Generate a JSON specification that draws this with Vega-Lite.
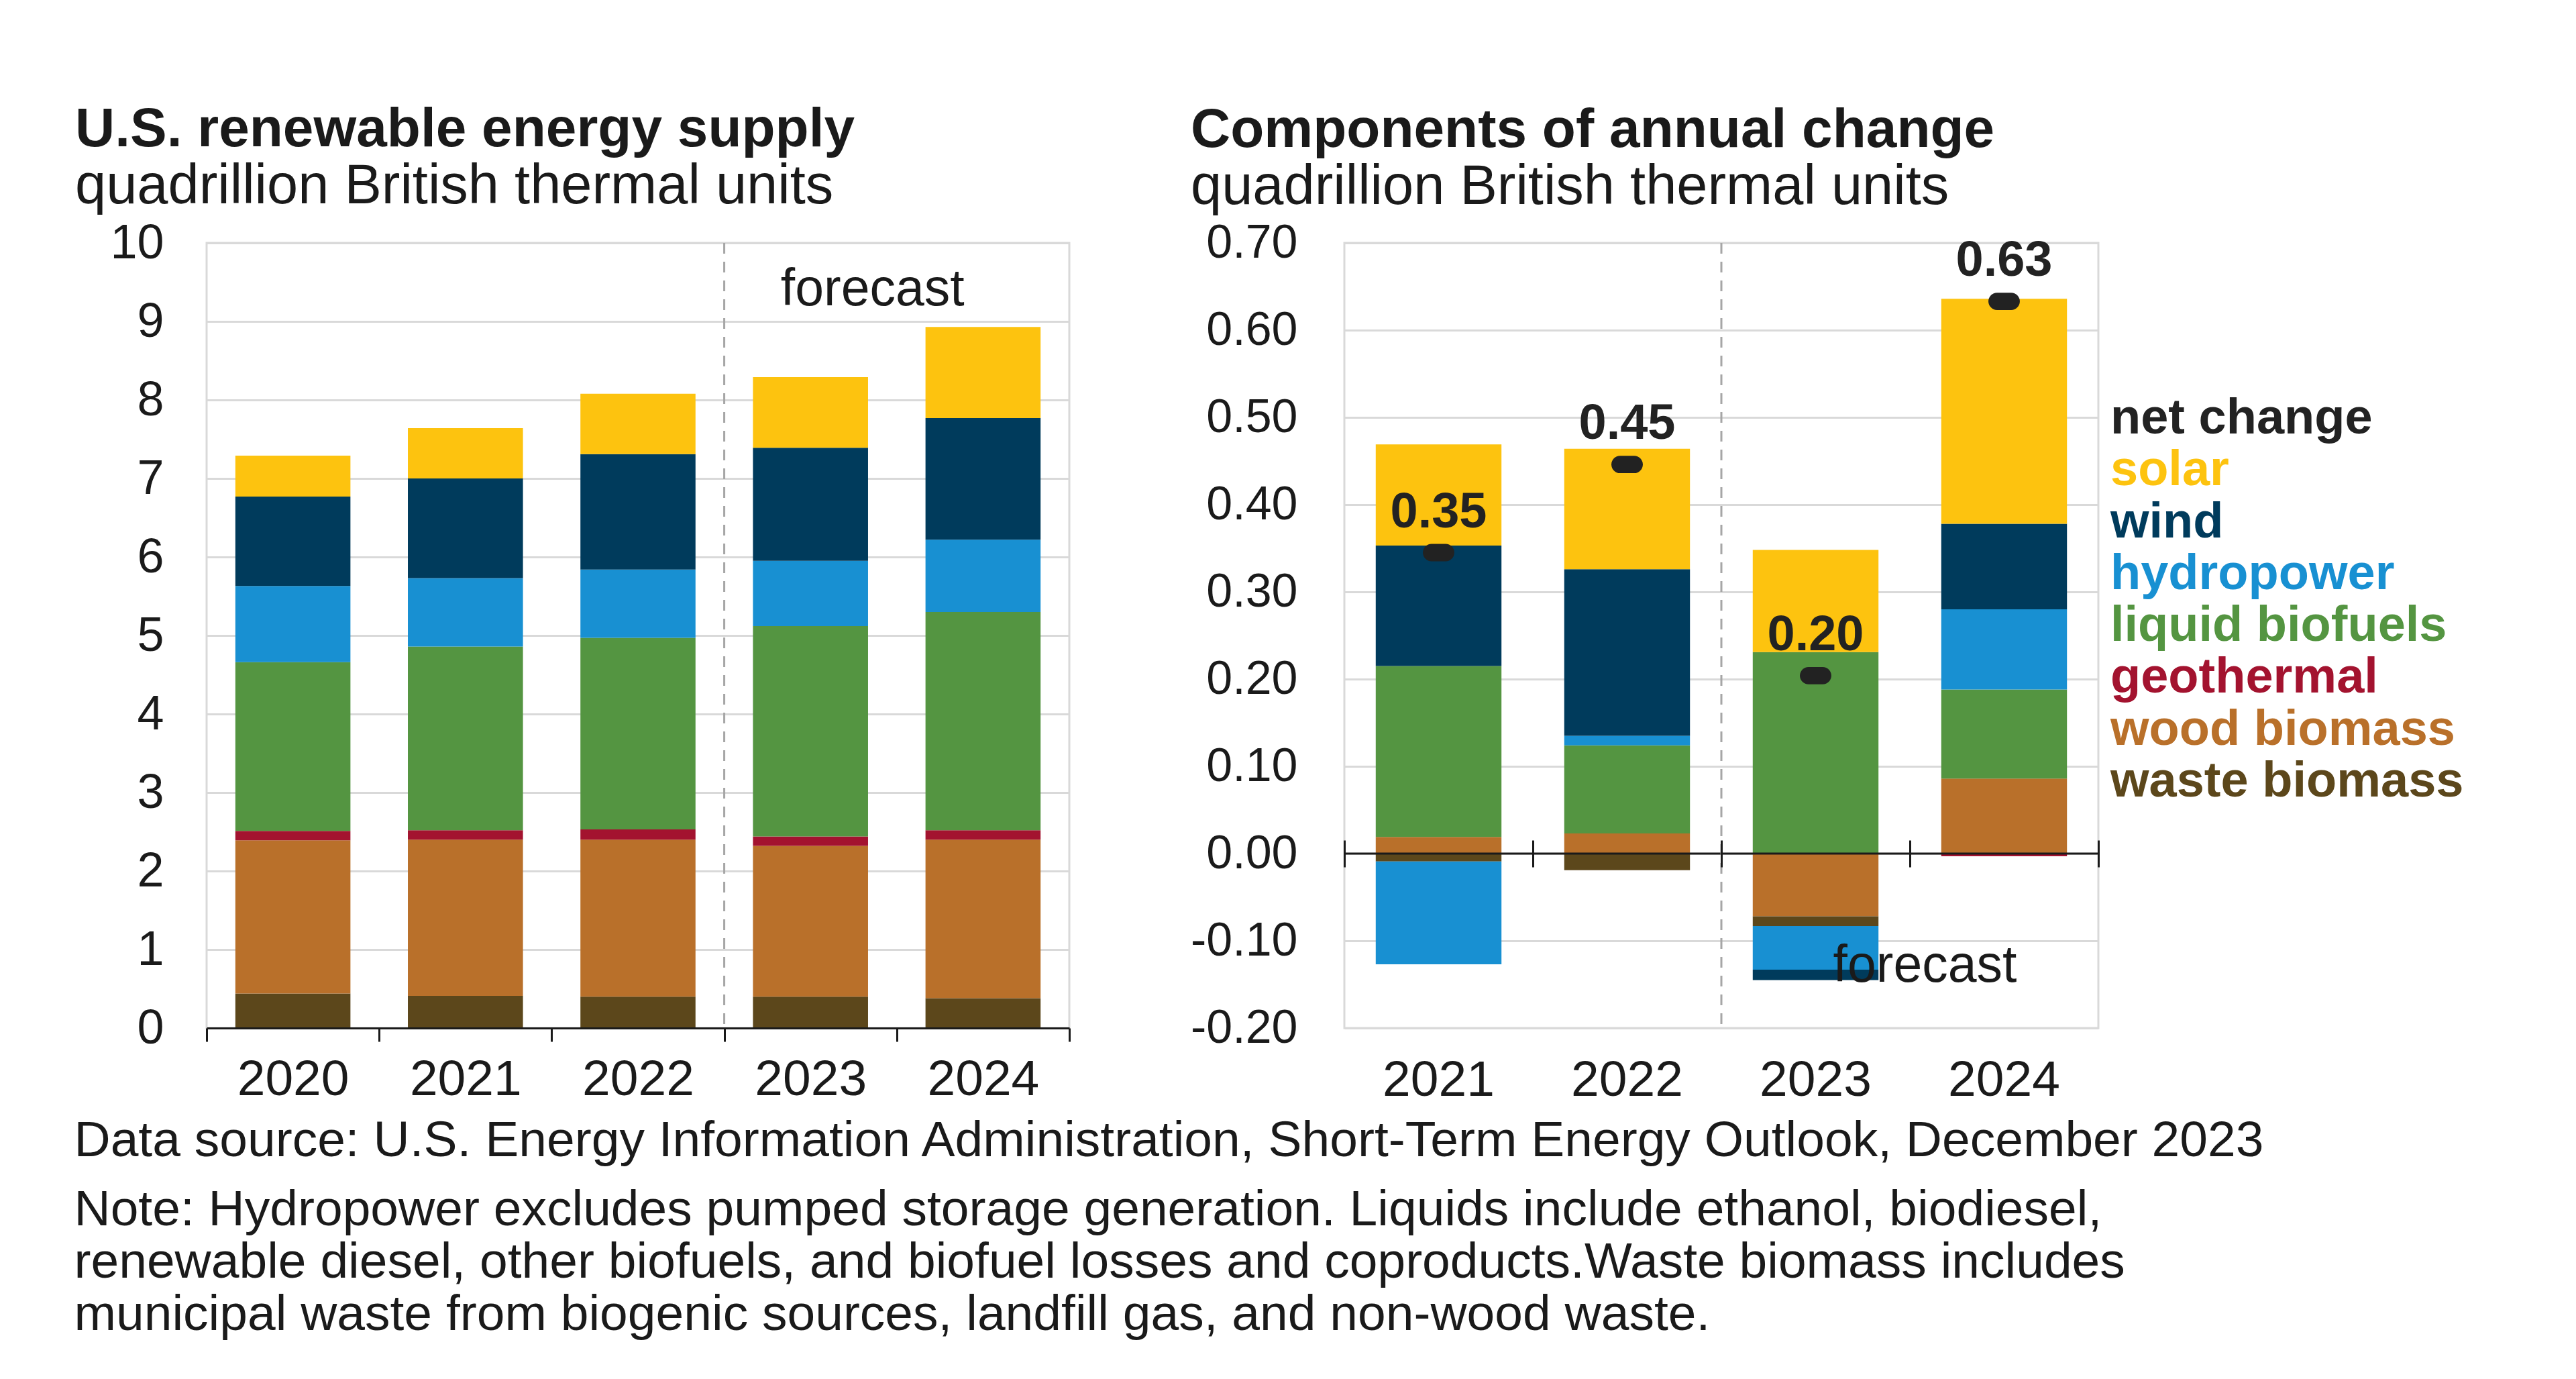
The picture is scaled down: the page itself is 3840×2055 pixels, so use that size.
{
  "$schema": "https://vega.github.io/schema/vega-lite/v6.json",
  "background": "white",
  "padding": {"left": 110, "top": 150, "right": 20, "bottom": 20},
  "datasets": {
    "supply": [
      {"year": "2020", "source": "waste biomass", "value": 0.44},
      {"year": "2020", "source": "wood biomass", "value": 1.95},
      {"year": "2020", "source": "geothermal", "value": 0.12},
      {"year": "2020", "source": "liquid biofuels", "value": 2.15},
      {"year": "2020", "source": "hydropower", "value": 0.97},
      {"year": "2020", "source": "wind", "value": 1.14},
      {"year": "2020", "source": "solar", "value": 0.52},
      {"year": "2021", "source": "waste biomass", "value": 0.41},
      {"year": "2021", "source": "wood biomass", "value": 1.99},
      {"year": "2021", "source": "geothermal", "value": 0.12},
      {"year": "2021", "source": "liquid biofuels", "value": 2.34},
      {"year": "2021", "source": "hydropower", "value": 0.87},
      {"year": "2021", "source": "wind", "value": 1.27},
      {"year": "2021", "source": "solar", "value": 0.64},
      {"year": "2022", "source": "waste biomass", "value": 0.40},
      {"year": "2022", "source": "wood biomass", "value": 2.00},
      {"year": "2022", "source": "geothermal", "value": 0.13},
      {"year": "2022", "source": "liquid biofuels", "value": 2.44},
      {"year": "2022", "source": "hydropower", "value": 0.87},
      {"year": "2022", "source": "wind", "value": 1.47},
      {"year": "2022", "source": "solar", "value": 0.77},
      {"year": "2023", "source": "waste biomass", "value": 0.40},
      {"year": "2023", "source": "wood biomass", "value": 1.92},
      {"year": "2023", "source": "geothermal", "value": 0.12},
      {"year": "2023", "source": "liquid biofuels", "value": 2.68},
      {"year": "2023", "source": "hydropower", "value": 0.83},
      {"year": "2023", "source": "wind", "value": 1.44},
      {"year": "2023", "source": "solar", "value": 0.90},
      {"year": "2024", "source": "waste biomass", "value": 0.38},
      {"year": "2024", "source": "wood biomass", "value": 2.02},
      {"year": "2024", "source": "geothermal", "value": 0.12},
      {"year": "2024", "source": "liquid biofuels", "value": 2.78},
      {"year": "2024", "source": "hydropower", "value": 0.92},
      {"year": "2024", "source": "wind", "value": 1.55},
      {"year": "2024", "source": "solar", "value": 1.16}
    ],
    "change": [
      {"year": "2021", "source": "wood biomass", "value": 0.019},
      {"year": "2021", "source": "geothermal", "value": 0.0},
      {"year": "2021", "source": "waste biomass", "value": -0.009},
      {"year": "2021", "source": "liquid biofuels", "value": 0.196},
      {"year": "2021", "source": "hydropower", "value": -0.118},
      {"year": "2021", "source": "wind", "value": 0.138},
      {"year": "2021", "source": "solar", "value": 0.116},
      {"year": "2022", "source": "wood biomass", "value": 0.023},
      {"year": "2022", "source": "geothermal", "value": 0.0},
      {"year": "2022", "source": "waste biomass", "value": -0.019},
      {"year": "2022", "source": "liquid biofuels", "value": 0.101},
      {"year": "2022", "source": "hydropower", "value": 0.011},
      {"year": "2022", "source": "wind", "value": 0.191},
      {"year": "2022", "source": "solar", "value": 0.138},
      {"year": "2023", "source": "wood biomass", "value": -0.072},
      {"year": "2023", "source": "geothermal", "value": 0.0},
      {"year": "2023", "source": "waste biomass", "value": -0.011},
      {"year": "2023", "source": "liquid biofuels", "value": 0.231},
      {"year": "2023", "source": "hydropower", "value": -0.050},
      {"year": "2023", "source": "wind", "value": -0.012},
      {"year": "2023", "source": "solar", "value": 0.117},
      {"year": "2024", "source": "wood biomass", "value": 0.086},
      {"year": "2024", "source": "geothermal", "value": -0.003},
      {"year": "2024", "source": "waste biomass", "value": 0.0},
      {"year": "2024", "source": "liquid biofuels", "value": 0.102},
      {"year": "2024", "source": "hydropower", "value": 0.092},
      {"year": "2024", "source": "wind", "value": 0.098},
      {"year": "2024", "source": "solar", "value": 0.258}
    ],
    "net": [
      {"year": "2021", "net": 0.35, "dot": 0.345},
      {"year": "2022", "net": 0.45, "dot": 0.446},
      {"year": "2023", "net": 0.20, "dot": 0.204},
      {"year": "2024", "net": 0.63, "dot": 0.633}
    ],
    "legend": [
      {"item": "net change"},
      {"item": "solar"},
      {"item": "wind"},
      {"item": "hydropower"},
      {"item": "liquid biofuels"},
      {"item": "geothermal"},
      {"item": "wood biomass"},
      {"item": "waste biomass"}
    ]
  },
  "title": {
    "text": "Data source: U.S. Energy Information Administration, Short-Term Energy Outlook, December 2023",
    "subtitle": [
      "Note: Hydropower excludes pumped storage generation. Liquids include ethanol, biodiesel,",
      "renewable diesel, other biofuels, and biofuel losses and coproducts.Waste biomass includes",
      "municipal waste from biogenic sources, landfill gas, and non-wood waste."
    ],
    "orient": "bottom",
    "anchor": "start",
    "frame": "bounds",
    "offset": 15,
    "fontSize": 75,
    "fontWeight": "normal",
    "subtitleFontSize": 75,
    "subtitlePadding": 28,
    "subtitleLineHeight": 78,
    "color": "#1a1a1a",
    "subtitleColor": "#1a1a1a",
    "font": "Liberation Sans",
    "subtitleFont": "Liberation Sans"
  },
  "config": {
    "font": "Liberation Sans",
    "view": {"stroke": "#d9d9d9", "strokeWidth": 3},
    "axis": {
      "labelFont": "Liberation Sans",
      "labelColor": "#1a1a1a",
      "gridColor": "#d9d9d9",
      "gridWidth": 3
    }
  },
  "hconcat": [
    {
      "width": 1286,
      "height": 1170,
      "title": {
        "text": "U.S. renewable energy supply",
        "subtitle": "quadrillion British thermal units",
        "anchor": "start",
        "frame": "group",
        "dx": -196,
        "offset": 5,
        "fontSize": 82,
        "fontWeight": "bold",
        "subtitleFontSize": 83,
        "subtitlePadding": 2,
        "color": "#1a1a1a",
        "subtitleColor": "#1a1a1a",
        "font": "Liberation Sans",
        "subtitleFont": "Liberation Sans"
      },
      "layer": [
        {
          "data": {"name": "supply"},
          "transform": [
            {"calculate": "indexof(['waste biomass','wood biomass','geothermal','liquid biofuels','hydropower','wind','solar'], datum.source)", "as": "k"}
          ],
          "mark": {"type": "bar", "width": {"band": 0.667}},
          "encoding": {
            "x": {
              "field": "year", "type": "ordinal",
              "scale": {"paddingInner": 0, "paddingOuter": 0},
              "axis": {
                "title": null, "labelAngle": 0, "labelFontSize": 75, "labelPadding": 20,
                "domain": true, "domainColor": "#1a1a1a", "domainWidth": 3,
                "ticks": true, "tickBand": "extent", "tickSize": 20, "tickWidth": 3, "tickColor": "#1a1a1a",
                "grid": false, "zindex": 1
              }
            },
            "y": {
              "field": "value", "type": "quantitative",
              "scale": {"domain": [0, 10]},
              "axis": {
                "title": null, "values": [0,1,2,3,4,5,6,7,8,9,10], "format": "d", "labelFontSize": 72,
                "labelPadding": 64, "domain": false, "ticks": false, "tickSize": 0, "grid": true
              }
            },
            "color": {
              "field": "source", "type": "nominal",
              "scale": {
                "domain": ["solar","wind","hydropower","liquid biofuels","geothermal","wood biomass","waste biomass"],
                "range": ["#FDC30F","#003B5C","#1890D2","#549541","#A3132F","#B9702A","#5C471B"]
              },
              "legend": null
            },
            "order": {"field": "k", "type": "quantitative"}
          }
        },
        {
          "data": {"values": [{}]},
          "mark": {"type": "rule", "color": "#a6a6a6", "strokeWidth": 3, "strokeDash": [16, 12]},
          "encoding": {
            "x": {"datum": "2023", "type": "ordinal", "bandPosition": 0}
          }
        },
        {
          "data": {"values": [{}]},
          "mark": {"type": "text", "text": "forecast", "fontSize": 77, "color": "#1a1a1a", "align": "center", "baseline": "middle"},
          "encoding": {
            "x": {"datum": "2023", "type": "ordinal", "bandPosition": 0.86},
            "y": {"datum": 9.4, "type": "quantitative"}
          }
        }
      ]
    },
    {
      "hconcat": [
        {
          "width": 1124,
          "height": 1170,
          "title": {
            "text": "Components of annual change",
            "subtitle": "quadrillion British thermal units",
            "anchor": "start",
            "frame": "group",
            "dx": -229,
            "offset": 5,
            "fontSize": 82,
            "fontWeight": "bold",
            "subtitleFontSize": 83,
            "subtitlePadding": 2,
            "color": "#1a1a1a",
            "subtitleColor": "#1a1a1a",
            "font": "Liberation Sans",
            "subtitleFont": "Liberation Sans"
          },
          "resolve": {"axis": {"x": "independent"}},
          "layer": [
            {
              "data": {"name": "change"},
              "transform": [
                {"calculate": "indexof(['wood biomass','geothermal','waste biomass','liquid biofuels','hydropower','wind','solar'], datum.source)", "as": "k"}
              ],
              "mark": {"type": "bar", "width": {"band": 0.667}},
              "encoding": {
                "x": {
                  "field": "year", "type": "ordinal",
                  "scale": {"paddingInner": 0, "paddingOuter": 0},
                  "axis": {
                    "orient": "bottom", "title": null, "labelAngle": 0, "labelFontSize": 75, "labelPadding": 41,
                    "domain": false, "ticks": false, "tickSize": 0, "grid": false
                  }
                },
                "y": {
                  "field": "value", "type": "quantitative",
                  "scale": {"domain": [-0.2, 0.7], "nice": false},
                  "axis": {
                    "title": null, "values": [-0.2,-0.1,0,0.1,0.2,0.3,0.4,0.5,0.6,0.7],
                    "labelExpr": "replace(format(datum.value, '.2f'), '\u2212', '-')",
                    "labelFontSize": 70, "labelPadding": 70, "domain": false, "ticks": false, "tickSize": 0, "grid": true
                  }
                },
                "color": {
                  "field": "source", "type": "nominal",
                  "scale": {
                    "domain": ["solar","wind","hydropower","liquid biofuels","geothermal","wood biomass","waste biomass"],
                    "range": ["#FDC30F","#003B5C","#1890D2","#549541","#A3132F","#B9702A","#5C471B"]
                  },
                  "legend": null
                },
                "order": {"field": "k", "type": "quantitative"}
              }
            },
            {
              "data": {"values": [{}]},
              "mark": {"type": "rule", "color": "#1a1a1a", "strokeWidth": 3},
              "encoding": {
                "y": {"datum": 0, "type": "quantitative"}
              }
            },
            {
              "data": {"values": [{}]},
              "mark": {"type": "rule", "color": "#a6a6a6", "strokeWidth": 3, "strokeDash": [16, 12]},
              "encoding": {
                "x": {"datum": "2023", "type": "ordinal", "bandPosition": 0, "axis": null}
              }
            },
            {
              "data": {"name": "net"},
              "mark": {
                "type": "point", "filled": true, "color": "#222222", "opacity": 1, "size": 2200,
                "shape": "M -0.45 -0.55 L 0.45 -0.55 A 0.55 0.55 0 0 1 0.45 0.55 L -0.45 0.55 A 0.55 0.55 0 0 1 -0.45 -0.55 Z"
              },
              "encoding": {
                "x": {
                  "field": "year", "type": "ordinal",
                  "axis": {
                    "orient": "top", "offset": -930, "title": null, "labels": false, "domain": false,
                    "ticks": true, "tickBand": "extent", "tickSize": 40, "tickWidth": 3, "tickColor": "#1a1a1a",
                    "grid": false, "zindex": 1
                  }
                },
                "y": {"field": "dot", "type": "quantitative"}
              }
            },
            {
              "data": {"name": "net"},
              "mark": {"type": "text", "fontSize": 74, "fontWeight": "bold", "color": "#222222", "dy": -60, "align": "center", "baseline": "middle"},
              "encoding": {
                "x": {"field": "year", "type": "ordinal", "axis": null},
                "y": {"field": "dot", "type": "quantitative"},
                "text": {"field": "net", "type": "quantitative", "format": ".2f"}
              }
            },
            {
              "data": {"values": [{}]},
              "mark": {"type": "text", "text": "forecast", "fontSize": 77, "color": "#1a1a1a", "align": "center", "baseline": "middle"},
              "encoding": {
                "x": {"datum": "2024", "type": "ordinal", "bandPosition": 0.08, "axis": null},
                "y": {"datum": -0.129, "type": "quantitative"}
              }
            }
          ]
        },
        {
          "width": 560,
          "height": 1170,
          "view": {"stroke": null},
          "data": {"name": "legend"},
          "mark": {"type": "text", "align": "left", "baseline": "middle", "fontSize": 74, "fontWeight": "bold", "font": "Liberation Sans"},
          "encoding": {
            "x": {"datum": 0, "type": "quantitative", "scale": {"domain": [0, 1]}, "axis": null},
            "y": {
              "field": "item", "type": "ordinal",
              "sort": ["net change","solar","wind","hydropower","liquid biofuels","geothermal","wood biomass","waste biomass"],
              "scale": {"range": [262, 803], "padding": 0},
              "axis": null
            },
            "text": {"field": "item", "type": "nominal"},
            "fill": {
              "field": "item", "type": "nominal",
              "scale": {
                "domain": ["net change","solar","wind","hydropower","liquid biofuels","geothermal","wood biomass","waste biomass"],
                "range": ["#222222","#FDC30F","#003B5C","#1890D2","#549541","#A3132F","#B9702A","#5C471B"]
              },
              "legend": null
            }
          }
        }
      ],
      "spacing": 15
    }
  ],
  "spacing": 175
}
